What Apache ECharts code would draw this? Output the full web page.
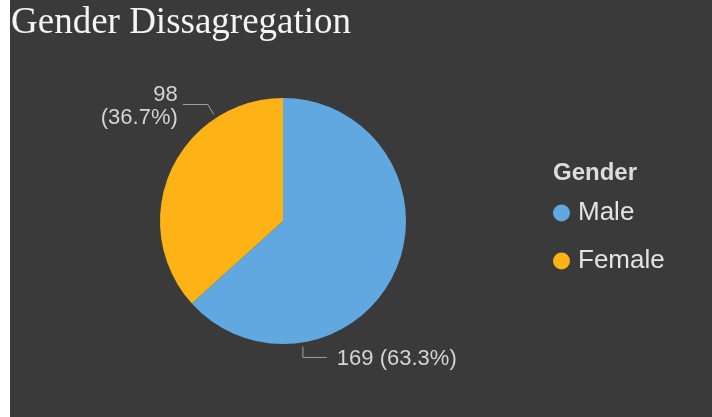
<!DOCTYPE html>
<html>
<head>
<meta charset="utf-8">
<script src="https://cdn.jsdelivr.net/npm/echarts@6/dist/echarts.min.js"></script>
<style>
  html, body { margin: 0; padding: 0; background: #ffffff; width: 712px; height: 417px; overflow: hidden; }
  #chart { position: absolute; left: 10px; top: 0; width: 702px; height: 417px; }
</style>
</head>
<body>
<div id="chart"></div>
<script>
// Respondents by gender
const categories = ['Male', 'Female'];
const counts = [169, 98];
const sliceColors = ['#62A8E0', '#FDB316'];

const chartTitle = 'Gender Dissagregation';
const legendTitle = 'Gender';

// Pie geometry (px, relative to the chart box)
const PIE_CENTER = [273, 221];
const PIE_RADIUS = 123;

// Where each leader line leaves the pie and how it bends
const leaders = [
  { angle: -81, elbow: [0, 11], tail: 24, align: 'left', gap: 10 },   // Male
  { angle: 123, elbow: [-6, -10], tail: -25, align: 'right', gap: -5 } // Female
];

const chart = echarts.init(document.getElementById('chart'), null, { renderer: 'canvas' });

chart.setOption({
  backgroundColor: '#3a3a3a',
  animation: false,
  title: [
    {
      text: chartTitle,
      left: -4,
      top: 0,
      textStyle: {
        fontFamily: 'Liberation Serif',
        fontWeight: 'normal',
        fontSize: 37,
        color: '#f4f4f4'
      }
    },
    {
      text: legendTitle,
      left: 538,
      top: 156,
      textStyle: {
        fontFamily: 'Liberation Sans',
        fontWeight: 'bold',
        fontSize: 24,
        color: '#dcdcdc'
      }
    }
  ],
  legend: {
    orient: 'vertical',
    left: 538,
    top: 195,
    icon: 'circle',
    itemWidth: 17,
    itemHeight: 17,
    itemGap: 22,
    data: categories,
    textStyle: {
      fontFamily: 'Liberation Sans',
      fontSize: 26,
      color: '#e4e4e4',
      padding: [0, 0, 0, 3]
    }
  },
  series: [
    {
      type: 'pie',
      center: PIE_CENTER,
      radius: PIE_RADIUS,
      startAngle: 90,
      clockwise: true,
      data: categories.map((name, i) => ({
        name,
        value: counts[i],
        itemStyle: { color: sliceColors[i] }
      })),
      label: {
        show: true,
        position: 'outside',
        fontFamily: 'Liberation Sans',
        fontSize: 22,
        lineHeight: 23,
        color: '#d4d4d4',
        formatter: (p) => p.dataIndex === 1
          ? p.value + '\n(' + p.percent.toFixed(1) + '%)'
          : p.value + ' (' + p.percent.toFixed(1) + '%)'
      },
      labelLine: {
        show: true,
        lineStyle: { color: '#a0a0a0', width: 1 }
      },
      labelLayout: (params) => {
        const l = leaders[params.dataIndex];
        const rad = l.angle * Math.PI / 180;
        const r = PIE_RADIUS + 4;
        const sx = PIE_CENTER[0] + r * Math.cos(rad);
        const sy = PIE_CENTER[1] - r * Math.sin(rad);
        const ex = sx + l.elbow[0];
        const ey = sy + l.elbow[1];
        const tx = ex + l.tail;
        return {
          x: tx + l.gap,
          y: ey + 2,
          align: l.align,
          verticalAlign: 'middle',
          labelLinePoints: [[sx, sy], [ex, ey], [tx, ey]]
        };
      }
    }
  ]
});
</script>
</body>
</html>
